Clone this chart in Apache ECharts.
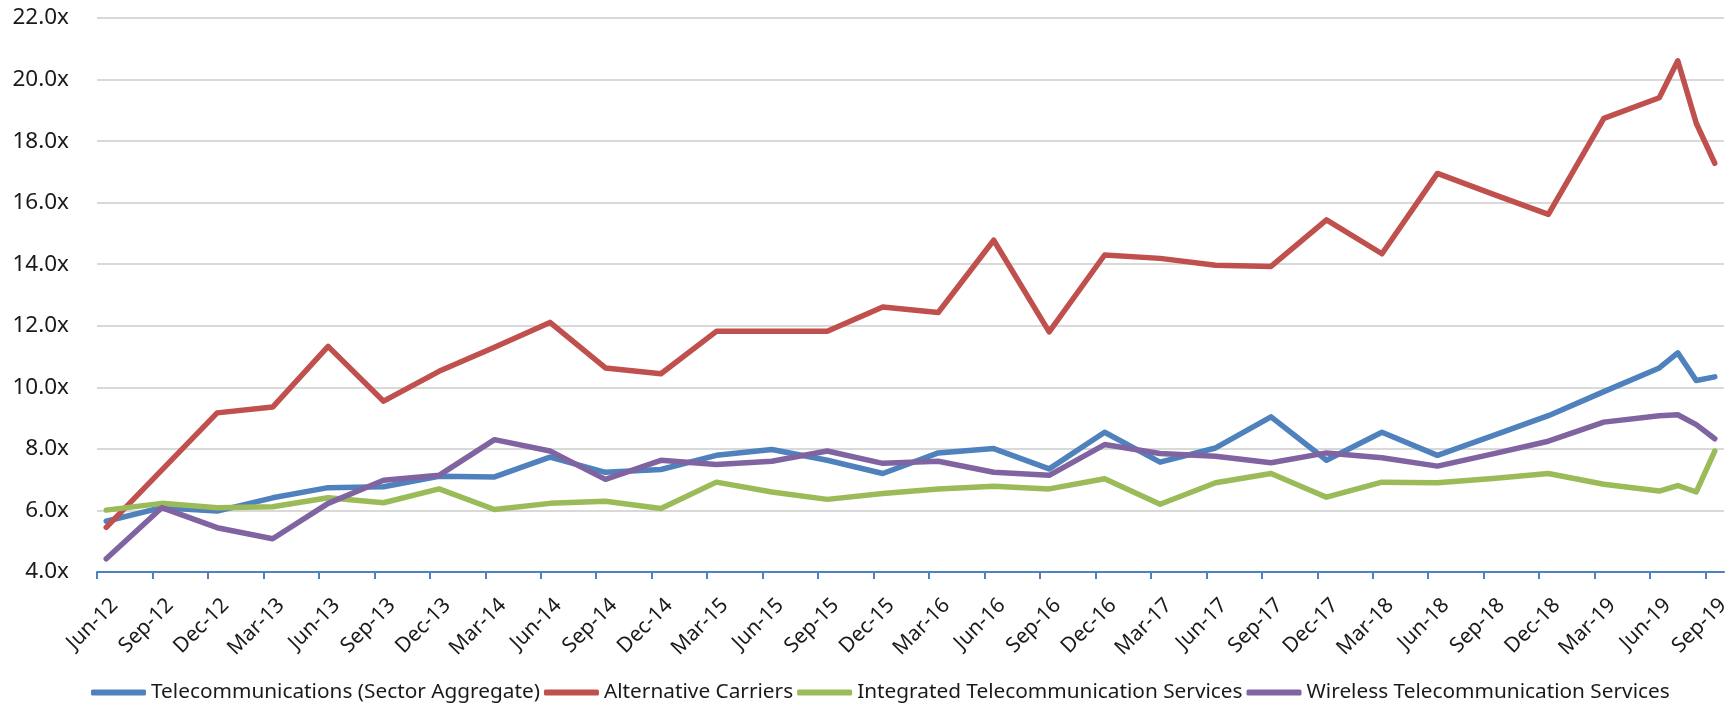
<!DOCTYPE html>
<html>
<head>
<meta charset="utf-8">
<title>Telecom EV/EBITDA multiples</title>
<script src="https://cdn.jsdelivr.net/npm/echarts@6/dist/echarts.min.js"></script>
<style>
  html, body { margin: 0; padding: 0; background: #fff; }
  #chart { width: 1731px; height: 709px; }
</style>
</head>
<body>
<div id="chart"></div>
<script>
// tick labels on the x axis, one every 3 months starting Jun-12
const tickLabels = ['Jun-12', 'Sep-12', 'Dec-12', 'Mar-13', 'Jun-13', 'Sep-13', 'Dec-13', 'Mar-14',
  'Jun-14', 'Sep-14', 'Dec-14', 'Mar-15', 'Jun-15', 'Sep-15', 'Dec-15', 'Mar-16', 'Jun-16', 'Sep-16',
  'Dec-16', 'Mar-17', 'Jun-17', 'Sep-17', 'Dec-17', 'Mar-18', 'Jun-18', 'Sep-18', 'Dec-18', 'Mar-19',
  'Jun-19', 'Sep-19']

// dates of the data points (quarterly, then monthly at the end)
const pointDates = ['Jun-12', 'Sep-12', 'Dec-12', 'Mar-13', 'Jun-13', 'Sep-13', 'Dec-13', 'Mar-14',
  'Jun-14', 'Sep-14', 'Dec-14', 'Mar-15', 'Jun-15', 'Sep-15', 'Dec-15', 'Mar-16', 'Jun-16', 'Sep-16',
  'Dec-16', 'Mar-17', 'Jun-17', 'Sep-17', 'Dec-17', 'Mar-18', 'Jun-18', 'Sep-18', 'Dec-18', 'Mar-19',
  'Jun-19', 'Jul-19', 'Aug-19', 'Sep-19']

const telecomAggregate = [5.65, 6.09, 5.98, 6.41, 6.74, 6.77, 7.11, 7.09, 7.73, 7.24, 7.33, 7.79, 7.98, 7.63,
  7.20, 7.87, 8.01, 7.35, 8.54, 7.57, 8.03, 9.04, 7.63, 8.54, 7.79, 8.43, 9.08, 9.86, 10.63, 11.12, 10.22, 10.34]
const alternativeCarriers = [5.45, 7.31, 9.17, 9.36, 11.33, 9.55, 10.52, 11.3, 12.11, 10.63, 10.44, 11.82, 11.82,
  11.82, 12.61, 12.43, 14.78, 11.8, 14.30, 14.19, 13.97, 13.93, 15.44, 14.34, 16.95, 16.28, 15.62, 18.74, 19.41,
  20.61, 18.58, 17.28]
const integratedServices = [6.01, 6.23, 6.09, 6.12, 6.41, 6.25, 6.70, 6.03, 6.23, 6.30, 6.06, 6.92, 6.60, 6.36,
  6.55, 6.70, 6.79, 6.70, 7.03, 6.20, 6.90, 7.20, 6.43, 6.92, 6.90, 7.04, 7.20, 6.85, 6.63, 6.81, 6.60, 7.93]
const wirelessServices = [4.43, 6.09, 5.44, 5.08, 6.23, 6.98, 7.14, 8.30, 7.93, 7.01, 7.63, 7.49, 7.60, 7.93,
  7.53, 7.60, 7.24, 7.14, 8.14, 7.85, 7.76, 7.55, 7.87, 7.71, 7.44, 7.84, 8.25, 8.87, 9.08, 9.11, 8.79, 8.33]

const months = ['Jan', 'Feb', 'Mar', 'Apr', 'May', 'Jun', 'Jul', 'Aug', 'Sep', 'Oct', 'Nov', 'Dec']
// months since Jun-12
function monthIndex(label) {
  const [mon, yy] = label.split('-')
  return (Number(yy) - 12) * 12 + months.indexOf(mon) - 5
}

const font = 'Noto Sans'
// rotated labels hang a bit to the right of their tick, as in Excel
// (must stay below 1 so the Sep-19 label is still inside the axis range)
const labelShift = 0.95

function makeSeries(name, values, color) {
  return {
    name,
    type: 'line',
    showSymbol: false,
    symbol: 'none',
    // points sit in the middle of their month
    data: values.map((v, i) => [monthIndex(pointDates[i]) + 0.5, v]),
    lineStyle: { color, width: 5.5, cap: 'round', join: 'round' },
    itemStyle: { color },
    emphasis: { disabled: true },
    animation: false
  }
}

const chart = echarts.init(document.getElementById('chart'))
chart.setOption({
  backgroundColor: '#fff',
  grid: { left: 97, right: 7, top: 18, bottom: 137, containLabel: false, outerBoundsMode: 'none' },
  legend: {
    bottom: 1,
    left: 86,
    icon: 'roundRect',
    itemWidth: 55,
    itemHeight: 6,
    itemGap: 4,
    textStyle: { fontFamily: font, fontSize: 20.8, color: '#1a1a1a' },
    data: ['Telecommunications (Sector Aggregate)', 'Alternative Carriers',
      'Integrated Telecommunication Services', 'Wireless Telecommunication Services']
  },
  xAxis: {
    type: 'value',
    min: 0,
    max: 88,
    interval: 3,
    splitLine: { show: false },
    axisLine: { show: true, lineStyle: { color: '#4F81BD', width: 2 } },
    axisTick: {
      show: true,
      length: 7,
      lineStyle: { color: '#4F81BD', width: 2 },
      customValues: tickLabels.map((d, i) => i * 3)
    },
    axisLabel: {
      rotate: 45,
      margin: 30,
      hideOverlap: false,
      fontFamily: font,
      fontSize: 21,
      color: '#1a1a1a',
      customValues: tickLabels.map((d, i) => i * 3 + labelShift),
      formatter: v => tickLabels[Math.round((v - labelShift) / 3)] || ''
    }
  },
  yAxis: {
    type: 'value',
    min: 4,
    max: 22,
    interval: 2,
    axisLine: { show: false },
    axisTick: { show: false },
    splitLine: { lineStyle: { color: '#D9D9D9', width: 2 } },
    axisLabel: {
      margin: 28,
      fontFamily: font,
      fontSize: 22.5,
      color: '#1a1a1a',
      formatter: v => v.toFixed(1) + 'x'
    }
  },
  series: [
    makeSeries('Telecommunications (Sector Aggregate)', telecomAggregate, '#4F81BD'),
    makeSeries('Alternative Carriers', alternativeCarriers, '#C0504D'),
    makeSeries('Integrated Telecommunication Services', integratedServices, '#9BBB59'),
    makeSeries('Wireless Telecommunication Services', wirelessServices, '#8064A2')
  ]
})
</script>
</body>
</html>
